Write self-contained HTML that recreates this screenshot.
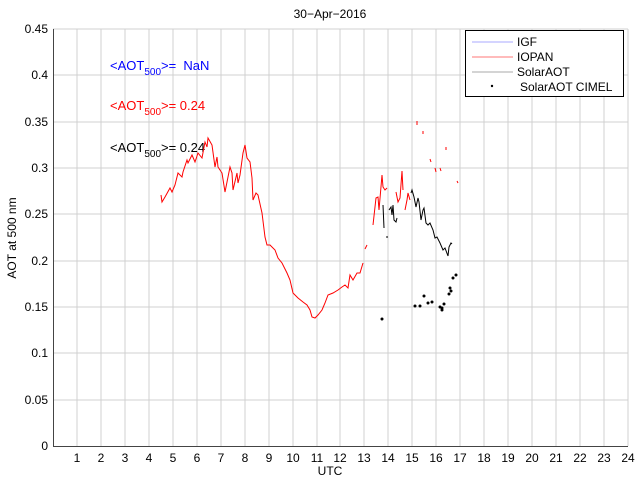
<!DOCTYPE html>
<html><head><style>body{margin:0;background:#fff}svg{display:block}text{font-family:"Liberation Sans",sans-serif;}</style></head><body>
<svg width="640" height="480" xmlns="http://www.w3.org/2000/svg">
<rect width="640" height="480" fill="#fff"/>
<g stroke="#d0d0d0" stroke-width="1">
<line x1="77" y1="29" x2="77" y2="446"/><line x1="101" y1="29" x2="101" y2="446"/><line x1="125" y1="29" x2="125" y2="446"/><line x1="149" y1="29" x2="149" y2="446"/><line x1="173" y1="29" x2="173" y2="446"/><line x1="197" y1="29" x2="197" y2="446"/><line x1="221" y1="29" x2="221" y2="446"/><line x1="245" y1="29" x2="245" y2="446"/><line x1="269" y1="29" x2="269" y2="446"/><line x1="293" y1="29" x2="293" y2="446"/><line x1="317" y1="29" x2="317" y2="446"/><line x1="340" y1="29" x2="340" y2="446"/><line x1="364" y1="29" x2="364" y2="446"/><line x1="388" y1="29" x2="388" y2="446"/><line x1="412" y1="29" x2="412" y2="446"/><line x1="436" y1="29" x2="436" y2="446"/><line x1="460" y1="29" x2="460" y2="446"/><line x1="484" y1="29" x2="484" y2="446"/><line x1="508" y1="29" x2="508" y2="446"/><line x1="532" y1="29" x2="532" y2="446"/><line x1="556" y1="29" x2="556" y2="446"/><line x1="580" y1="29" x2="580" y2="446"/><line x1="604" y1="29" x2="604" y2="446"/><line x1="628" y1="29" x2="628" y2="446"/>
<line x1="53" y1="29" x2="628" y2="29"/><line x1="53" y1="75" x2="628" y2="75"/><line x1="53" y1="122" x2="628" y2="122"/><line x1="53" y1="168" x2="628" y2="168"/><line x1="53" y1="214" x2="628" y2="214"/><line x1="53" y1="261" x2="628" y2="261"/><line x1="53" y1="307" x2="628" y2="307"/><line x1="53" y1="353" x2="628" y2="353"/><line x1="53" y1="400" x2="628" y2="400"/>
</g>
<g stroke="#444" stroke-width="1"><line x1="53.5" y1="29" x2="53.5" y2="446"/><line x1="53" y1="446.5" x2="628" y2="446.5"/></g>
<g font-size="12" fill="#000" text-anchor="end">
<text x="48" y="450">0</text><text x="48" y="404">0.05</text><text x="48" y="357">0.1</text><text x="48" y="311">0.15</text><text x="48" y="265">0.2</text><text x="48" y="218">0.25</text><text x="48" y="172">0.3</text><text x="48" y="126">0.35</text><text x="48" y="79">0.4</text><text x="48" y="33">0.45</text>
</g>
<g font-size="12" fill="#000" text-anchor="middle">
<text x="77" y="462">1</text><text x="101" y="462">2</text><text x="125" y="462">3</text><text x="149" y="462">4</text><text x="173" y="462">5</text><text x="197" y="462">6</text><text x="221" y="462">7</text><text x="245" y="462">8</text><text x="269" y="462">9</text><text x="293" y="462">10</text><text x="317" y="462">11</text><text x="340" y="462">12</text><text x="364" y="462">13</text><text x="388" y="462">14</text><text x="412" y="462">15</text><text x="436" y="462">16</text><text x="460" y="462">17</text><text x="484" y="462">18</text><text x="508" y="462">19</text><text x="532" y="462">20</text><text x="556" y="462">21</text><text x="580" y="462">22</text><text x="604" y="462">23</text><text x="628" y="462">24</text>
<text x="330" y="475">UTC</text>
<text x="330" y="18">30−Apr−2016</text>
<text transform="translate(16,238) rotate(-90)">AOT at 500 nm</text>
</g>
<g font-size="13">
<text x="110" y="70" fill="#0000ff">&lt;AOT<tspan font-size="10" dy="5">500</tspan><tspan dy="-5">&gt;=&#160;&#160;NaN</tspan></text>
<text x="110" y="110" fill="#ff0000">&lt;AOT<tspan font-size="10" dy="5">500</tspan><tspan dy="-5">&gt;= 0.24</tspan></text>
<text x="110" y="152" fill="#000">&lt;AOT<tspan font-size="10" dy="5">500</tspan><tspan dy="-5">&gt;= 0.24</tspan></text>
</g>
<g fill="none" stroke="#ff0000" stroke-width="1">
<polyline points="161,195 162,202 165,197 170,188 172,192 175,185 178,173 182,177 183,172 187,160 188,163 192,155 195,162 198,153 202,158 205,142 207,147 208,138 212,145 215,167 217,157 218,167 222,173 225,192 228,177 230,167 232,173 233,190 237,173 238,183 240,175 243,153 245,145 247,158 250,162 252,178 253,200 256,193 258,195 262,213 265,237 267,245 270,245 275,250 278,258 282,263 287,273 290,280 293,293 298,298 303,302 307,305 310,310 312,317 315,318 318,315 322,310 325,303 328,295 333,293 338,290 342,287 345,285 348,288 350,275 353,280 357,273 360,273 363,263"/>
<polyline points="365,249 367,245"/>
<polyline points="373,225 376,198 378,197 379,210 382,175 383,187 385,190 387,188"/>
<polyline points="396,192 398,202 400,198 402,171 403,190"/>
<polyline points="405,210 407,200 408,193 410,200"/>
<polyline points="417,121 417,125"/><polyline points="423,131 423,134"/><polyline points="430,159 431,162"/><polyline points="435,168 436,172"/><polyline points="440,168 441,171"/><polyline points="446,147 446,150"/><polyline points="457,181 458,183"/>
</g>
<g fill="none" stroke="#000" stroke-width="1">
<polyline points="383,205 384,228"/><polyline points="387,236 387,238"/>
<polyline points="389,210 391,207 392,215 393,205 394,220 396,222 397,218"/>
<polyline points="411,193 412,190 414,197 416,207 418,198 419,202 421,220 423,210 424,208 426,223 428,225 430,223 433,230 435,238 437,237 440,243 443,250 445,248 448,256 449,247 451,243 452,244"/>
</g>
<g fill="#000">
<circle cx="382" cy="319" r="1.5"/><circle cx="415" cy="306" r="1.5"/><circle cx="420" cy="306" r="1.5"/><circle cx="424" cy="296" r="1.5"/><circle cx="428" cy="303" r="1.5"/><circle cx="432" cy="302" r="1.5"/><circle cx="440" cy="307" r="1.5"/><circle cx="442" cy="310" r="1.5"/><circle cx="444" cy="304" r="1.5"/><circle cx="442" cy="308" r="1.5"/><circle cx="449" cy="294" r="1.5"/><circle cx="450" cy="288" r="1.5"/><circle cx="451" cy="291" r="1.5"/><circle cx="453" cy="278" r="1.5"/><circle cx="456" cy="275" r="1.5"/>
</g>
<rect x="465.5" y="30.5" width="158" height="66" fill="#fff" stroke="#000"/>
<line x1="472" y1="42" x2="513" y2="42" stroke="#aaaaff"/>
<line x1="472" y1="57" x2="513" y2="57" stroke="#ff7777"/>
<line x1="472" y1="72" x2="513" y2="72" stroke="#aaaaaa"/>
<circle cx="492" cy="86" r="1.2" fill="#000"/>
<g font-size="12" fill="#000">
<text x="517" y="46">IGF</text><text x="517" y="61">IOPAN</text><text x="517" y="76">SolarAOT</text><text x="520" y="91">SolarAOT CIMEL</text>
</g>
</svg>
</body></html>
